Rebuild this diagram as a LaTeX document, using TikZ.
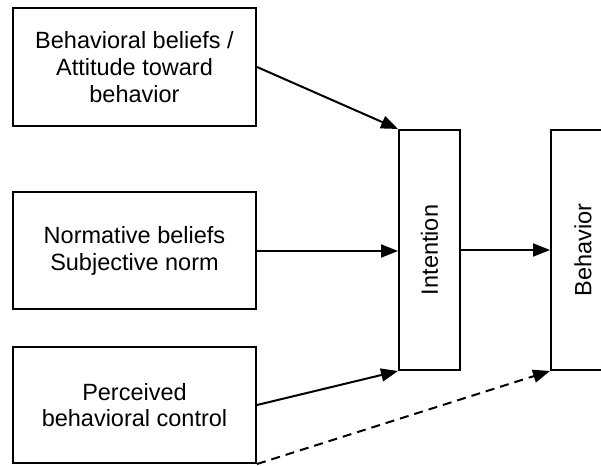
\documentclass[tikz,border=0pt]{standalone}
\usepackage{fontspec}
\setmainfont{Liberation Sans}
\usetikzlibrary{arrows.meta}
\tikzset{
  box/.style={draw, line width=2pt, rectangle, align=center, inner sep=0pt,
    font=\fontsize{23.5}{26.7}\selectfont},
  conn/.style={line width=2pt, -{Triangle[length=17pt,width=13pt]}},
}
\begin{document}
\begin{tikzpicture}[x=1pt,y=1pt]
\useasboundingbox (0,0) rectangle (601,465);
\clip (0,0) rectangle (601,465);
\fill[white] (0,0) rectangle (601,465);
\node[box, minimum width=243pt, minimum height=118pt] (att) at (134.5,398)
  {Behavioral beliefs /\\Attitude toward\\behavior};
\node[box, minimum width=243pt, minimum height=117pt] (norm) at (134.5,214)
  {Normative beliefs\\Subjective norm};
\node[box, minimum width=243pt, minimum height=116pt] (pbc) at (134.5,60)
  {Perceived\\behavioral control};
\node[box, minimum width=61pt, minimum height=240pt] (int) at (429.5,215)
  {\rotatebox{90}{Intention}};
\node[box, minimum width=64pt, minimum height=240pt] (beh) at (583,215)
  {\rotatebox{90}{Behavior}};
\draw[conn] (att.east) -- (int.north west);
\draw[conn] (norm.east) -- (int.west |- norm.east);
\draw[conn] (int.east) -- (beh.west);
\draw[conn] (pbc.east) -- (int.south west);
\draw[conn, dash pattern=on 9pt off 6pt] (pbc.south east) -- (beh.south west);
\end{tikzpicture}
\end{document}
